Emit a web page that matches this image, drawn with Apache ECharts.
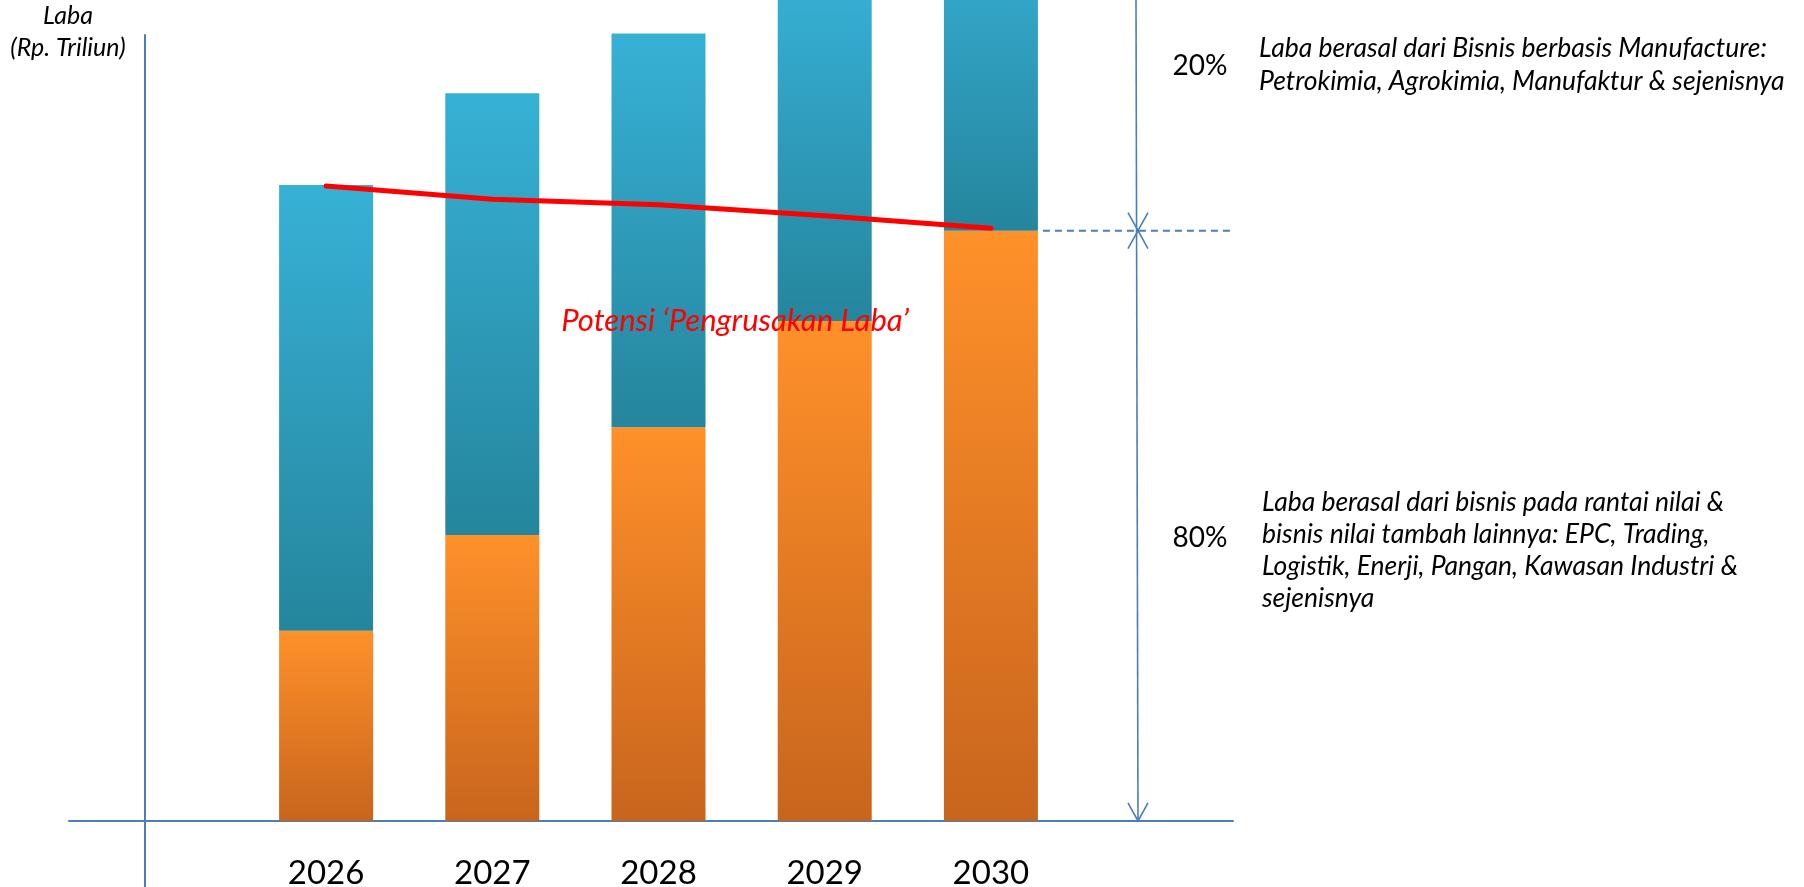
<!DOCTYPE html>
<html>
<head>
<meta charset="utf-8">
<script src="https://cdn.jsdelivr.net/npm/echarts@6/dist/echarts.min.js"></script>
<style>
html,body{margin:0;padding:0;background:#fff;}
#c{width:1804px;height:887px;}
</style>
</head>
<body>
<div id="c"></div>
<script>
// ---- data ----
const years = ['2026', '2027', '2028', '2029', '2030'];
const labaRantaiNilai = [24.2, 36.4, 50.1, 63.6, 75.1];   // orange (bottom) segment
const labaManufaktur = [56.7, 56.2, 50.1, 44.4, 40.9];    // blue (top) segment
const garisPengrusakan = [80.8, 79.1, 78.4, 77.0, 75.4];  // red line
const yAxisTitle = ['Laba', '(Rp. Triliun)'];
const sharePct = ['20%', '80%'];
const noteManufaktur = ['Laba berasal dari Bisnis berbasis Manufacture:', 'Petrokimia, Agrokimia, Manufaktur & sejenisnya'];
const noteRantaiNilai = ['Laba berasal dari bisnis pada rantai nilai &', 'bisnis nilai tambah lainnya: EPC, Trading,', 'Logistik, Enerji, Pangan, Kawasan Industri &', 'sejenisnya'];
const annotationText = 'Potensi \u2018Pengrusakan Laba\u2019';

// ---- chart ----
const FONT = 'Lato, "Noto Sans", sans-serif';
const AXIS = '#4A7EBB';
const Y_MIN = -8.4, Y_MAX = 100;
const BAR_W = 94;

const chart = echarts.init(document.getElementById('c'), null, {renderer: 'canvas'});

const barShadow = {shadowColor: 'rgba(0,0,0,0.35)', shadowBlur: 6, shadowOffsetY: 3, shadowOffsetX: 1};

chart.setOption({
  animation: false,
  backgroundColor: '#ffffff',
  grid: [
    {left: 243, right: 730, top: 35, bottom: 0, containLabel: false, outerBoundsMode: 'none'},
    {left: 69, right: 571, top: 35, bottom: 0, containLabel: false, outerBoundsMode: 'none'}
  ],
  xAxis: [
    {type: 'category', gridIndex: 0, data: years, position: 'bottom',
     axisLine: {show: false, onZero: false},
     axisTick: {show: false},
     axisLabel: {fontFamily: FONT, fontSize: 33, color: '#000', margin: -30},
     splitLine: {show: false}},
    {type: 'value', gridIndex: 1, min: 0, max: 1,
     axisLine: {show: true, onZero: true, lineStyle: {color: AXIS, width: 2}},
     axisTick: {show: false}, axisLabel: {show: false}, splitLine: {show: false}}
  ],
  yAxis: [
    {type: 'value', gridIndex: 0, min: Y_MIN, max: Y_MAX, offset: 98,
     axisLine: {show: true, onZero: false, lineStyle: {color: AXIS, width: 2}},
     axisTick: {show: false}, axisLabel: {show: false}, splitLine: {show: false}},
    {type: 'value', gridIndex: 1, min: Y_MIN, max: Y_MAX, show: false}
  ],
  series: [
    {
      name: 'Rantai nilai', type: 'bar', stack: 'laba', barWidth: BAR_W, clip: false,
      xAxisIndex: 0, yAxisIndex: 0,
      data: labaRantaiNilai,
      itemStyle: Object.assign({
        color: new echarts.graphic.LinearGradient(0, 0, 0, 1, [
          {offset: 0, color: '#FF912A'}, {offset: 1, color: '#C8651D'}
        ])
      }, barShadow)
    },
    {
      name: 'Manufaktur', type: 'bar', stack: 'laba', barWidth: BAR_W, clip: false,
      xAxisIndex: 0, yAxisIndex: 0,
      data: labaManufaktur,
      itemStyle: Object.assign({
        color: new echarts.graphic.LinearGradient(0, 0, 0, 1, [
          {offset: 0, color: '#37B1D6'}, {offset: 1, color: '#25859D'}
        ])
      }, barShadow)
    },
    {
      name: 'Pengrusakan', type: 'line', xAxisIndex: 0, yAxisIndex: 0,
      data: garisPengrusakan, symbol: 'none', z: 5,
      lineStyle: {color: '#FF0000', width: 5, cap: 'round', join: 'round'}
    }
  ]
});

// ---- annotations positioned through the axes ----
const xs = years.map(function (y) { return chart.convertToPixel({xAxisIndex: 0}, y); });
const ySplit = chart.convertToPixel({yAxisIndex: 0}, labaRantaiNilai[4]);
const yBase = chart.convertToPixel({yAxisIndex: 0}, 0);
const barRight = xs[4] + BAR_W / 2;
const axisRight = chart.convertToPixel({xAxisIndex: 1}, 1);
const arrowX = 1138;

function vHead(x, y, dir) { // dir 1 = pointing down, -1 = pointing up
  return {type: 'polyline', shape: {points: [[x - 10, y - 18 * dir], [x, y], [x + 10, y - 18 * dir]]},
          style: {stroke: AXIS, lineWidth: 1.6, fill: null}, z: 10};
}
const italic = function (size) { return 'italic ' + size + 'px ' + FONT; };

chart.setOption({
  graphic: [
    {type: 'line', shape: {x1: arrowX - 2, y1: 0, x2: arrowX, y2: yBase}, style: {stroke: AXIS, lineWidth: 1.6}, z: 10},
    {type: 'line', shape: {x1: barRight + 5, y1: ySplit, x2: axisRight, y2: ySplit},
     style: {stroke: AXIS, lineWidth: 2, lineDash: [7, 5]}, z: 10},
    vHead(arrowX, ySplit, 1),
    vHead(arrowX, ySplit, -1),
    vHead(arrowX, yBase, 1),
    {type: 'text', x: 68, y: 32, z: 10,
     style: {text: yAxisTitle.join('\n'), font: italic(25), fill: '#000', align: 'center', verticalAlign: 'middle', lineHeight: 32}},
    {type: 'text', x: 1200, y: 66, z: 10,
     style: {text: sharePct[0], font: '28px ' + FONT, fill: '#000', align: 'center', verticalAlign: 'middle'}},
    {type: 'text', x: 1200, y: 538, z: 10,
     style: {text: sharePct[1], font: '28px ' + FONT, fill: '#000', align: 'center', verticalAlign: 'middle'}},
    {type: 'text', x: 1259, y: 65, z: 10,
     style: {text: noteManufaktur.join('\n'), font: italic(26.5), fill: '#000', align: 'left', verticalAlign: 'middle', lineHeight: 33}},
    {type: 'text', x: 1262, y: 550, z: 10,
     style: {text: noteRantaiNilai.join('\n'), font: italic(26.5), fill: '#000', align: 'left', verticalAlign: 'middle', lineHeight: 32}},
    {type: 'text', x: 735, y: 321, z: 10,
     style: {text: annotationText, font: italic(31), fill: '#FF0000', align: 'center', verticalAlign: 'middle'}}
  ]
});
</script>
</body>
</html>
